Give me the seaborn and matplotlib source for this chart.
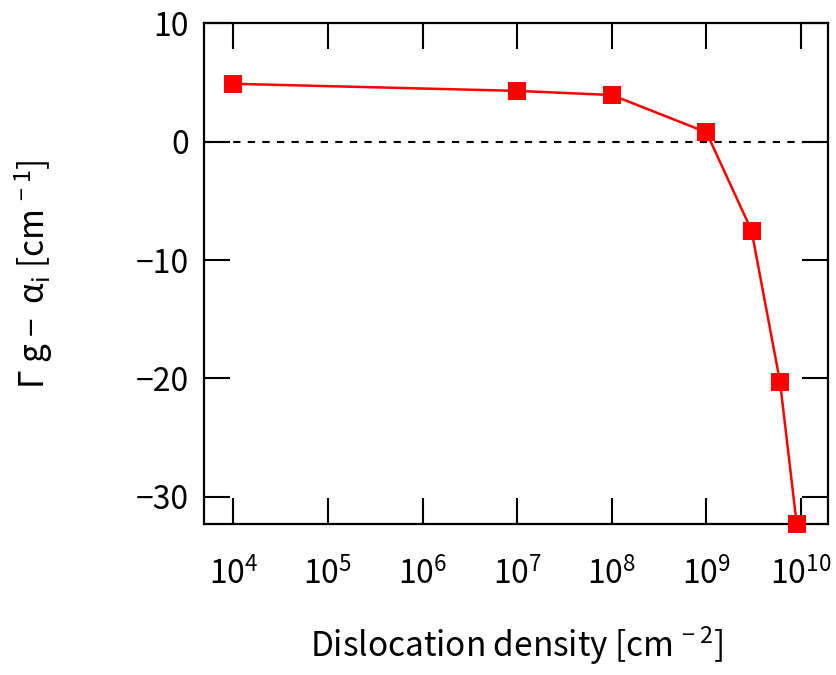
import matplotlib
matplotlib.use("Agg")
import matplotlib.pyplot as plt
import seaborn as sns
import numpy as np
import pandas as pd
from matplotlib.ticker import FixedLocator, FuncFormatter, NullLocator

# ---- data ----
density = [1e4, 1e7, 1e8, 1e9, 3e9, 6e9, 9e9]
gain_minus_loss = [4.9, 4.3, 3.95, 0.8, -7.5, -20.3, -32.3]
x_ticks = [1e4, 1e5, 1e6, 1e7, 1e8, 1e9, 1e10]
y_ticks = [10, 0, -10, -20, -30]

sns.set_style("ticks")
FONT = "Noto Sans CJK JP"
plt.rcParams["font.family"] = [FONT, "DejaVu Sans"]
plt.rcParams["mathtext.fontset"] = "custom"
plt.rcParams["mathtext.rm"] = FONT
plt.rcParams["mathtext.it"] = FONT
plt.rcParams["mathtext.bf"] = FONT
plt.rcParams["axes.unicode_minus"] = True
for k in ["text.color", "axes.labelcolor", "xtick.color", "ytick.color",
          "xtick.labelcolor", "ytick.labelcolor", "axes.edgecolor"]:
    plt.rcParams[k] = "black"

fig = plt.figure(figsize=(8.37, 6.75), dpi=100)
ax = fig.add_axes([0.2437, 0.2237, 0.9898 - 0.2437, 0.9653 - 0.2237])

df = pd.DataFrame({"density": density, "value": gain_minus_loss})
ax.axhline(0, color="black", lw=1.5, ls=(0, (3.5, 3.5)), zorder=1)
sns.lineplot(data=df, x="density", y="value", ax=ax, color="#ff0000",
             marker="s", markersize=12.5, markeredgewidth=0, lw=1.8,
             clip_on=False, zorder=3)

ax.set_xscale("log")
ax.set_xlim(10 ** 3.69, 10 ** 10.29)
ax.set_ylim(-32.3, 10)

ax.xaxis.set_major_locator(FixedLocator(x_ticks))
ax.xaxis.set_minor_locator(NullLocator())
ax.xaxis.set_major_formatter(FuncFormatter(
    lambda v, p: r"$\mathregular{10^{%d}}$" % int(round(np.log10(v)))))
ax.yaxis.set_major_locator(FixedLocator(y_ticks))
ax.yaxis.set_minor_locator(NullLocator())

for s in ax.spines.values():
    s.set_linewidth(1.6)
    s.set_color("black")

ax.tick_params(axis="both", which="major", direction="in", length=19,
               width=1.5, top=True, right=True, labelsize=23, color="black",
               labelcolor="black")
ax.tick_params(axis="x", pad=24)
ax.tick_params(axis="y", pad=11)

ax.set_xlabel(r"Dislocation density [cm$^{\,-2}$]", fontsize=24)
ax.set_ylabel(r"$\Gamma$ g $-$  $\alpha_{\rm i}$ [cm$^{\,-1}$]", fontsize=24)
ax.xaxis.set_label_coords(0.5, -0.2)
ax.yaxis.set_label_coords(-0.239, 0.5)

fig.savefig("out.png", dpi=100)
